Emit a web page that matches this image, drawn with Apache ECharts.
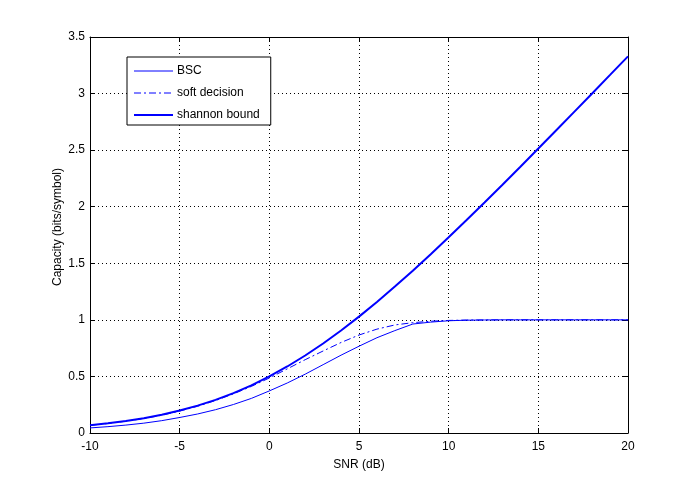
<!DOCTYPE html>
<html>
<head>
<meta charset="utf-8">
<script src="https://cdn.jsdelivr.net/npm/echarts@6/dist/echarts.min.js"></script>
<style>
html,body{margin:0;padding:0;background:#fff;}
#chart{width:694px;height:486px;}
</style>
</head>
<body>
<div id="chart"></div>
<script>
var snrDb = [-10,-9,-8,-7,-6,-5,-4,-3,-2,-1,0,1,2,3,4,5,6,7,8,9,10,11,12,13,14,15,16,17,18,19,20];
var bscCapacity = [0.045,0.056,0.070,0.087,0.109,0.137,0.168,0.206,0.252,0.306,0.372,0.442,0.520,0.604,0.688,0.767,0.842,0.905,0.963,0.980,0.992,0.997,0.999,1.000,1.000,1.000,1.000,1.000,1.000,1.000,1.000];
var softCapacity = [0.068,0.084,0.104,0.128,0.157,0.194,0.236,0.287,0.346,0.412,0.486,0.567,0.648,0.725,0.800,0.866,0.918,0.955,0.975,0.988,0.995,0.998,0.999,1.000,1.000,1.000,1.000,1.000,1.000,1.000,1.000];
var shannonCapacity = [0.0688,0.0855,0.1061,0.1312,0.1617,0.1982,0.2417,0.2929,0.3529,0.4216,0.5,0.5878,0.6851,0.7913,0.9061,1.0287,1.1583,1.2939,1.4349,1.5804,1.7297,1.8822,2.0373,2.1946,2.3535,2.5139,2.6754,2.8379,3.0011,3.1649,3.3291];
var seriesNames = ['BSC','soft decision','shannon bound'];

function pairs(ys){ return snrDb.map(function(x,i){ return [x, ys[i]]; }); }

var chart = echarts.init(document.getElementById('chart'), null, {renderer:'canvas'});
var font = 'Liberation Sans, Arial, Helvetica, sans-serif';
var blue = '#0000ff';
var dashDot = [7,3,2,3];
var noSymbol = {color:'rgba(0,0,0,0)', borderColor:'rgba(0,0,0,0)', borderWidth:0, opacity:0};
var axisCommon = {
  axisLine:{show:true,onZero:false,lineStyle:{color:'#000',width:1}},
  axisTick:{show:true,inside:true,length:5,lineStyle:{color:'#000',width:1}},
  axisLabel:{color:'#000',fontSize:12,fontFamily:font}
};
var option = {
  backgroundColor:'#fff',
  animation:false,
  grid:{left:90,right:66,top:37,bottom:53,containLabel:false},
  legend:{
    show:true,
    orient:'vertical',
    left:127, top:57,
    data:[
      {name:seriesNames[0], itemStyle:noSymbol, lineStyle:{color:blue,width:1,type:'solid'}},
      {name:seriesNames[1], itemStyle:noSymbol, lineStyle:{color:blue,width:1,type:dashDot}},
      {name:seriesNames[2], itemStyle:noSymbol, lineStyle:{color:blue,width:2,type:'solid'}}
    ],
    backgroundColor:'#fff',
    borderColor:'#000', borderWidth:1,
    padding:[8,11,4,6],
    itemWidth:39, itemHeight:14, itemGap:10,
    textStyle:{color:'#000',fontSize:12,fontFamily:font,padding:[0,0,0,-1]},
    selectedMode:false
  },
  xAxis:[
    Object.assign({}, axisCommon, {
      type:'value', min:-10, max:20, interval:5, position:'bottom',
      name:'SNR (dB)', nameLocation:'middle', nameGap:26, nameMoveOverlap:false,
      nameTextStyle:{color:'#000',fontSize:12,fontFamily:font},
      axisLabel:{color:'#000',fontSize:12,fontFamily:font,margin:8},
      splitLine:{show:true,lineStyle:{color:'#000',width:1,type:[1,3]}}
    }),
    Object.assign({}, axisCommon, {
      type:'value', min:-10, max:20, interval:5, position:'top',
      axisLabel:{show:false}, splitLine:{show:false}
    })
  ],
  yAxis:[
    Object.assign({}, axisCommon, {
      type:'value', min:0, max:3.5, interval:0.5, position:'left',
      name:'Capacity (bits/symbol)', nameLocation:'middle', nameGap:26, nameRotate:90, nameMoveOverlap:false,
      nameTextStyle:{color:'#000',fontSize:12,fontFamily:font,padding:[0,0,0,16]},
      axisLabel:{color:'#000',fontSize:12,fontFamily:font,margin:5},
      splitLine:{show:true,lineStyle:{color:'#000',width:1,type:[1,3]}}
    }),
    Object.assign({}, axisCommon, {
      type:'value', min:0, max:3.5, interval:0.5, position:'right',
      axisLabel:{show:false}, splitLine:{show:false}
    })
  ],
  series:[
    {name:seriesNames[0], type:'line', xAxisIndex:0, yAxisIndex:0, data:pairs(bscCapacity),
     symbol:'none', showSymbol:false, lineStyle:{color:blue,width:1,type:'solid'}, itemStyle:{color:blue}},
    {name:seriesNames[1], type:'line', xAxisIndex:0, yAxisIndex:0, data:pairs(softCapacity),
     symbol:'none', showSymbol:false, lineStyle:{color:blue,width:1,type:dashDot}, itemStyle:{color:blue}},
    {name:seriesNames[2], type:'line', xAxisIndex:0, yAxisIndex:0, data:pairs(shannonCapacity),
     symbol:'none', showSymbol:false, lineStyle:{color:blue,width:2,type:'solid'}, itemStyle:{color:blue}}
  ]
};
chart.setOption(option);
</script>
</body>
</html>
